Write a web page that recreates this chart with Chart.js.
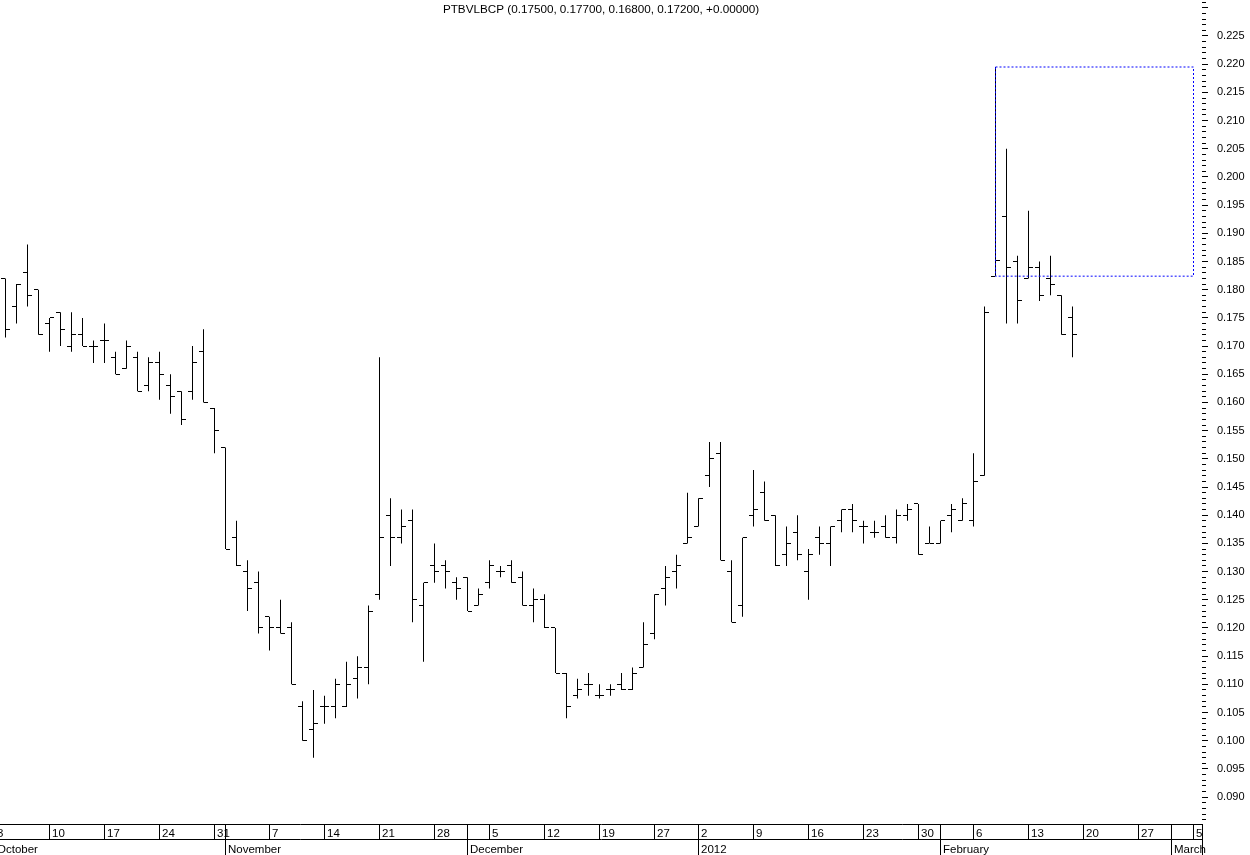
<!DOCTYPE html>
<html>
<head>
<meta charset="utf-8">
<title>PTBVLBCP</title>
<script src="https://cdn.jsdelivr.net/npm/chart.js@4.4.1/dist/chart.umd.min.js"></script>
<style>
  html, body { margin: 0; padding: 0; background: #fff; }
  #wrap { width: 1250px; height: 855px; position: relative; }
</style>
</head>
<body>
<div id="wrap"><canvas id="chart"></canvas></div>
<script>
// ====== Data ======
const titleText = 'PTBVLBCP (0.17500, 0.17700, 0.16800, 0.17200, +0.00000)';

const firstDate = '2011-10-03';   // first day on the axis
const lastDate = '2012-03-05';    // last day on the axis
const holidays = ['2011-12-26'];  // no session that day
const monthNames = ['January', 'February', 'March', 'April', 'May', 'June', 'July',
  'August', 'September', 'October', 'November', 'December'];

const firstBarDate = '2011-10-04'; // first visible bar

// one value per session, Oct 4 2011 .. Feb 17 2012
const open = [
  0.182, 0.177, 0.183, 0.180,
  0.174, 0.176, 0.170, 0.172, 0.170,
  0.171, 0.168, 0.166, 0.168, 0.163,
  0.167, 0.163, 0.162, 0.162, 0.169,
  0.159, 0.152, 0.136, 0.130, 0.128,
  0.122, 0.120, 0.120, 0.106, 0.102,
  0.106, 0.106, 0.106, 0.111, 0.113,
  0.126, 0.140, 0.136, 0.139, 0.124,
  0.131, 0.131, 0.128, 0.129, 0.124,
  0.128, 0.130, 0.131, 0.129, 0.124,
  0.125, 0.120, 0.112, 0.108, 0.110,
  0.108, 0.109, 0.110, 0.109, 0.113,
  0.119, 0.127, 0.130, 0.135,
  0.138, 0.147, 0.151, 0.130, 0.124,
  0.140, 0.144, 0.140, 0.133, 0.137,
  0.130, 0.136, 0.135, 0.139, 0.141,
  0.138, 0.137, 0.138, 0.136, 0.140,
  0.142, 0.135, 0.135, 0.140, 0.139,
  0.139, 0.147, 0.1824, 0.193, 0.185,
  0.182, 0.184, 0.182, 0.179, 0.175
];
const high = [
  0.182, 0.181, 0.188, 0.180,
  0.175, 0.176, 0.176, 0.175, 0.171,
  0.174, 0.169, 0.171, 0.169, 0.168,
  0.169, 0.165, 0.162, 0.170, 0.173,
  0.159, 0.152, 0.139, 0.132, 0.130,
  0.122, 0.125, 0.121, 0.107, 0.109,
  0.108, 0.111, 0.114, 0.115, 0.124,
  0.168, 0.143, 0.141, 0.141, 0.128,
  0.135, 0.132, 0.129, 0.129, 0.127,
  0.132, 0.131, 0.132, 0.130, 0.127,
  0.126, 0.120, 0.112, 0.111, 0.112,
  0.110, 0.110, 0.112, 0.113, 0.121,
  0.126, 0.131, 0.133, 0.144,
  0.143, 0.153, 0.153, 0.132, 0.136,
  0.148, 0.146, 0.140, 0.138, 0.140,
  0.134, 0.138, 0.138, 0.141, 0.142,
  0.139, 0.139, 0.140, 0.141, 0.142,
  0.142, 0.138, 0.139, 0.142, 0.143,
  0.151, 0.177, 0.2195, 0.205, 0.186,
  0.194, 0.185, 0.186, 0.179, 0.177
];
const low = [
  0.1715, 0.174, 0.177, 0.172,
  0.169, 0.170, 0.169, 0.170, 0.167,
  0.167, 0.165, 0.166, 0.162, 0.162,
  0.1605, 0.158, 0.156, 0.1605, 0.160,
  0.151, 0.134, 0.131, 0.123, 0.119,
  0.116, 0.119, 0.110, 0.100, 0.097,
  0.103, 0.104, 0.106, 0.1075, 0.110,
  0.125, 0.131, 0.135, 0.121, 0.114,
  0.128, 0.127, 0.125, 0.123, 0.124,
  0.127, 0.129, 0.128, 0.124, 0.121,
  0.120, 0.112, 0.104, 0.1075, 0.108,
  0.1075, 0.108, 0.109, 0.109, 0.113,
  0.118, 0.124, 0.127, 0.135,
  0.138, 0.145, 0.132, 0.121, 0.122,
  0.138, 0.139, 0.131, 0.131, 0.132,
  0.125, 0.133, 0.131, 0.137, 0.137,
  0.135, 0.136, 0.136, 0.135, 0.139,
  0.133, 0.135, 0.135, 0.137, 0.139,
  0.138, 0.147, 0.1824, 0.174, 0.174,
  0.182, 0.178, 0.179, 0.172, 0.168
];
const close = [
  0.173, 0.181, 0.179, 0.172,
  0.175, 0.173, 0.172, 0.170, 0.170,
  0.171, 0.165, 0.170, 0.162, 0.167,
  0.165, 0.161, 0.157, 0.167, 0.160,
  0.155, 0.134, 0.131, 0.127, 0.120,
  0.120, 0.119, 0.110, 0.100, 0.103,
  0.106, 0.110, 0.110, 0.113, 0.123,
  0.136, 0.136, 0.138, 0.125, 0.128,
  0.130, 0.130, 0.127, 0.123, 0.126,
  0.131, 0.130, 0.128, 0.124, 0.125,
  0.120, 0.112, 0.106, 0.109, 0.110,
  0.108, 0.109, 0.109, 0.112, 0.117,
  0.126, 0.129, 0.131, 0.136,
  0.143, 0.150, 0.132, 0.121, 0.136,
  0.141, 0.139, 0.131, 0.135, 0.133,
  0.133, 0.135, 0.138, 0.141, 0.139,
  0.138, 0.137, 0.136, 0.140, 0.141,
  0.133, 0.135, 0.139, 0.141, 0.142,
  0.146, 0.176, 0.1852, 0.184, 0.178,
  0.184, 0.179, 0.181, 0.172, 0.172
];

// dotted box drawn from the Feb 8 high/low range
const rangeStart = '2012-02-08';
const rangeEnd = '2012-03-05';

// axis ranges
const xMin = 0.5, xMax = 109.772727;
const yMin = 0.08523, yMax = 0.23103;
const yMajorStep = 0.005, yMinorStep = 0.001;

// ====== Build sessions and tick lists ======
const tradingDays = [];
for (let t = Date.parse(firstDate); t <= Date.parse(lastDate); t += 86400000) {
  const d = new Date(t);
  const iso = d.toISOString().slice(0, 10);
  if (d.getUTCDay() % 6 === 0 || holidays.includes(iso)) continue;
  tradingDays.push(iso);
}

const weekTicks = [];
const monthTicks = [];
tradingDays.forEach((iso, i) => {
  const d = new Date(iso + 'T00:00:00Z');
  const prev = i ? new Date(tradingDays[i - 1] + 'T00:00:00Z') : null;
  if (!prev || d.getUTCDay() <= prev.getUTCDay()) {
    weekTicks.push({ value: i, label: String(d.getUTCDate()) });
  }
  if (!prev || d.getUTCMonth() !== prev.getUTCMonth()) {
    const m = d.getUTCMonth();
    monthTicks.push({ value: i, label: m === 0 ? String(d.getUTCFullYear()) : monthNames[m] });
  }
});

// row 1: week separators + month separators (no text) + right edge
const dayRow = new Map();
weekTicks.forEach(t => dayRow.set(t.value, t.label));
monthTicks.forEach(t => { if (!dayRow.has(t.value)) dayRow.set(t.value, ''); });
dayRow.set(xMax, '');
const dayRowValues = [...dayRow.keys()].sort((a, b) => a - b);

// row 2: month separators + right edge
const monthRow = new Map(monthTicks.map(t => [t.value, t.label]));
monthRow.set(xMax, '');
const monthRowValues = [...monthRow.keys()].sort((a, b) => a - b);

const first = tradingDays.indexOf(firstBarDate);
const bars = open.map((o, k) => ({ x: first + k, y: [low[k], high[k]] }));
const opens = open.map((o, k) => ({ x: first + k, y: o }));
const closes = close.map((c, k) => ({ x: first + k, y: c }));

const bi = tradingDays.indexOf(rangeStart);
const be = tradingDays.indexOf(rangeEnd);
const boxTop = high[bi - first];
const boxBottom = low[bi - first];
const boxPoints = [
  { x: bi, y: boxTop }, { x: be, y: boxTop },
  { x: be, y: boxBottom }, { x: bi, y: boxBottom }, { x: bi, y: boxTop }
];

// ====== Helpers ======
function tickImage(side) {
  // small horizontal stroke, left (open) or right (close) of the bar
  const c = document.createElement('canvas');
  c.width = 9;
  c.height = 1;
  const g = c.getContext('2d');
  g.fillStyle = '#000';
  g.fillRect(side === 'left' ? 0 : 5, 0, 4, 1);
  return c;
}

// ticks on every multiple of step inside the y range
function stepTicks(step) {
  return s => {
    const out = [];
    for (let k = Math.ceil(yMin / step - 1e-9); k * step <= yMax + 1e-12; k++) {
      out.push({ value: +(k * step).toFixed(4) });
    }
    s.ticks = out;
  };
}

function fixSize(prop, size) {
  return scale => {
    scale[prop] = size;
    scale.paddingLeft = scale.paddingRight = scale.paddingTop = scale.paddingBottom = 0;
  };
}

const crispTicks = {
  id: 'crispTicks',
  beforeDatasetsDraw(chart) { chart.ctx.imageSmoothingEnabled = false; }
};

Chart.defaults.font.family = "'Liberation Sans', Arial, sans-serif";
Chart.defaults.font.size = 11;
Chart.defaults.color = '#000';

// ====== Chart ======
new Chart(document.getElementById('chart'), {
  type: 'bar',
  data: {
    datasets: [
      {
        type: 'line',
        label: 'range',
        data: boxPoints,
        xAxisID: 'x',
        yAxisID: 'y',
        borderColor: '#0000ff',
        borderWidth: 1,
        borderDash: [2, 2],
        pointRadius: 0,
        fill: false,
        tension: 0,
        order: 0
      },
      {
        type: 'scatter',
        label: 'open',
        data: opens,
        xAxisID: 'x',
        yAxisID: 'y',
        pointStyle: tickImage('left'),
        pointRadius: 1,
        order: 1
      },
      {
        type: 'scatter',
        label: 'close',
        data: closes,
        xAxisID: 'x',
        yAxisID: 'y',
        pointStyle: tickImage('right'),
        pointRadius: 1,
        order: 1
      },
      {
        type: 'bar',
        label: 'high-low',
        data: bars,
        xAxisID: 'x',
        yAxisID: 'y',
        backgroundColor: '#000',
        borderWidth: 0,
        barThickness: 1,
        inflateAmount: 0,
        order: 2
      }
    ]
  },
  options: {
    responsive: true,
    maintainAspectRatio: false,
    devicePixelRatio: 1,
    animation: false,
    events: [],
    layout: { padding: { top: 2, left: 0, right: 0, bottom: 0 }, autoPadding: false },
    plugins: {
      legend: { display: false },
      tooltip: { enabled: false },
      title: {
        display: true,
        text: titleText,
        fullSize: false,
        color: '#000',
        font: { size: 11.7, weight: 'normal', lineHeight: 1.2 },
        padding: { top: 0.5, bottom: -14.54 }
      }
    },
    scales: {
      x: {
        type: 'linear',
        axis: 'x',
        position: 'bottom',
        weight: 0,
        min: xMin,
        max: xMax,
        offset: false,
        bounds: 'data',
        afterBuildTicks: s => { s.ticks = dayRowValues.map(v => ({ value: v })); },
        afterFit: fixSize('height', 15),
        grid: { display: true, drawOnChartArea: false, drawTicks: true, tickLength: 15, tickColor: '#000', tickWidth: 1, offset: false },
        border: { display: true, color: '#000', width: 1 },
        ticks: {
          autoSkip: false, maxRotation: 0, minRotation: 0,
          align: 'start', labelOffset: 2.5, padding: -11.8,
          color: '#000', font: { size: 11.5 },
          callback: v => dayRow.get(v) ?? ''
        }
      },
      x2: {
        type: 'linear',
        axis: 'x',
        position: 'bottom',
        weight: 1,
        min: xMin,
        max: xMax,
        offset: false,
        bounds: 'data',
        afterBuildTicks: s => { s.ticks = monthRowValues.map(v => ({ value: v })); },
        afterFit: fixSize('height', 16),
        grid: { display: true, drawOnChartArea: false, drawTicks: true, tickLength: 16, tickColor: '#000', tickWidth: 1, offset: false },
        border: { display: true, color: '#000', width: 1 },
        ticks: {
          autoSkip: false, maxRotation: 0, minRotation: 0,
          align: 'start', labelOffset: 2.5, padding: -12,
          color: '#000', font: { size: 11.5 },
          callback: v => monthRow.get(v) ?? ''
        }
      },
      ym: {
        type: 'linear',
        axis: 'y',
        position: 'right',
        weight: 0,
        min: yMin,
        max: yMax,
        afterBuildTicks: stepTicks(yMinorStep),
        afterFit: fixSize('width', 0),
        grid: { display: true, drawOnChartArea: false, drawTicks: true, tickLength: 4, tickColor: '#000' },
        border: { display: false },
        ticks: { display: false, stepSize: yMinorStep, autoSkip: false }
      },
      y: {
        type: 'linear',
        axis: 'y',
        position: 'right',
        weight: 1,
        min: yMin,
        max: yMax,
        afterBuildTicks: stepTicks(yMajorStep),
        afterFit: fixSize('width', 48),
        grid: { display: true, drawOnChartArea: false, drawTicks: true, tickLength: 6, tickColor: '#000' },
        border: { display: false },
        ticks: {
          stepSize: yMajorStep,
          autoSkip: false,
          padding: 9,
          color: '#000',
          font: { size: 11 },
          callback: v => (v > 0.0875 && v < 0.2275) ? v.toFixed(3) : ''
        }
      }
    }
  },
  plugins: [crispTicks]
});
</script>
</body>
</html>
